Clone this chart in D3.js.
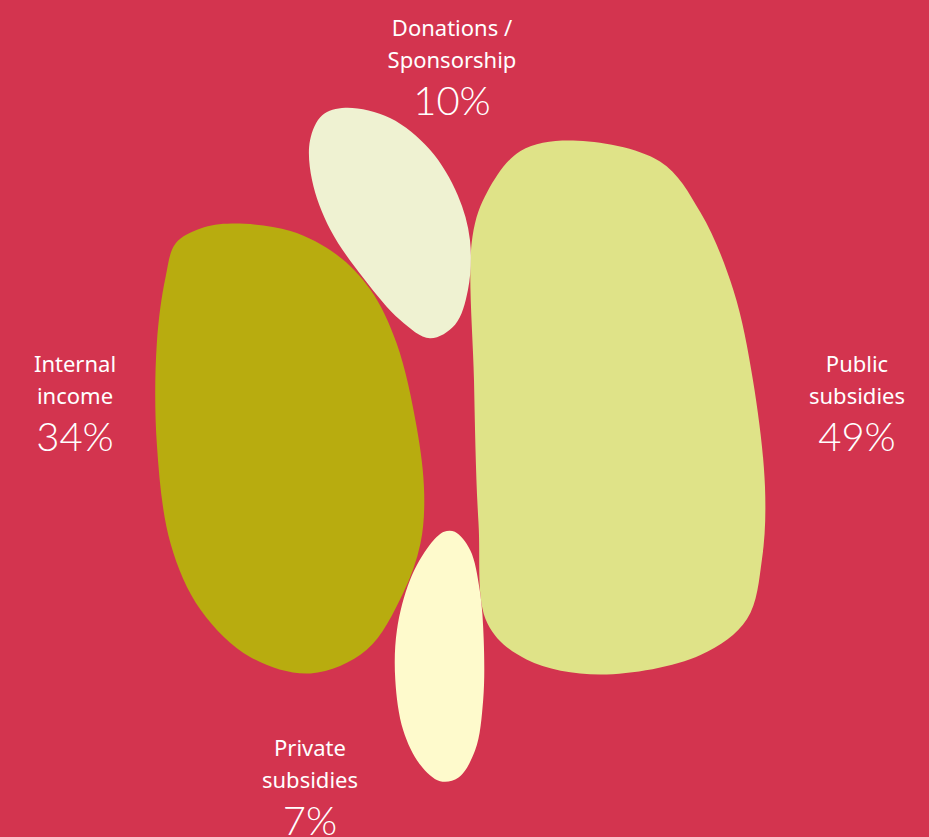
<!DOCTYPE html>
<html>
<head>
<meta charset="utf-8">
<script src="https://cdn.jsdelivr.net/npm/d3@7/dist/d3.min.js"></script>
<style>
  html, body { margin: 0; padding: 0; background: #D3344F; }
  svg { display: block; }
  text { fill: #FFFFFF; }
  .lbl { font-family: "Noto Sans", Lato, sans-serif; }
  .pct { font-family: Lato, "Open Sans", sans-serif; }
</style>
</head>
<body>
<svg id="chart" width="929" height="837"></svg>
<script>
// ---- data ----
const categories = ["Internal income", "Public subsidies", "Donations / Sponsorship", "Private subsidies"];
const labelLines = [["Internal", "income"], ["Public", "subsidies"], ["Donations /", "Sponsorship"], ["Private", "subsidies"]];
const values = [34, 49, 10, 7];
const colors = ["#B8AC0F", "#DFE388", "#EFF2D2", "#FEFACC"];

// ---- layout (positions / sizes) ----
const W = 929, H = 837;
const blobCenters = [[290.5, 448.5], [619.5, 407.5], [390, 223], [439.5, 656.5]];
const labelAnchors = [[75, 372], [857, 372], [452, 36], [310, 756]];

// organic unit outlines (shape templates, in units of blob radius)
const templates = [
  [[-0.47,-1.80],[0.00,-1.74],[0.37,-1.55],[0.64,-1.27],[0.85,-0.84],[1.01,-0.17],[1.07,0.36],[1.04,0.76],[0.90,1.16],[0.61,1.61],[0.16,1.80],[-0.32,1.67],[-0.72,1.29],[-0.96,0.76],[-1.07,-0.04],[-1.07,-0.84],[-1.00,-1.37],[-0.92,-1.64],[-0.72,-1.76]],
  [[-0.31,-1.78],[0.27,-1.64],[0.54,-1.30],[0.76,-0.78],[0.89,-0.18],[0.97,0.53],[0.95,1.01],[0.85,1.41],[0.54,1.65],[-0.13,1.78],[-0.62,1.68],[-0.88,1.44],[-0.94,0.77],[-0.97,-0.18],[-0.98,-1.14],[-0.88,-1.44],[-0.66,-1.71]],
  [[-0.66,-1.70],[0.00,-1.55],[0.59,-1.08],[1.00,-0.41],[1.18,0.25],[1.15,0.99],[0.96,1.50],[0.59,1.70],[0.15,1.43],[-0.37,0.84],[-0.88,0.10],[-1.15,-0.63],[-1.18,-1.22],[-1.00,-1.59]],
  [[0.27,-2.20],[0.54,-1.88],[0.71,-1.17],[0.78,-0.29],[0.77,0.77],[0.63,1.65],[0.33,2.14],[0.01,2.20],[-0.34,1.91],[-0.64,1.30],[-0.78,0.41],[-0.75,-0.47],[-0.52,-1.35],[-0.17,-1.97],[0.08,-2.20]]
];

const data = categories.map((c, i) => ({
  name: c, lines: labelLines[i], value: values[i], color: colors[i],
  center: blobCenters[i], anchor: labelAnchors[i], shape: templates[i]
}));

const svg = d3.select("#chart");
svg.append("rect").attr("width", W).attr("height", H).attr("fill", "#D3344F");

// blob size: area proportional to value
const rScale = d3.scaleSqrt().domain([0, d3.max(values)]).range([0, 150]);

const line = d3.line().curve(d3.curveCatmullRomClosed.alpha(0.5));

svg.append("g").selectAll("path")
  .data(data)
  .join("path")
  .attr("d", d => {
    const r = rScale(d.value);
    const sx = d3.scaleLinear().domain([0, 1]).range([d.center[0], d.center[0] + r]);
    const sy = d3.scaleLinear().domain([0, 1]).range([d.center[1], d.center[1] + r]);
    return line(d.shape.map(p => [sx(p[0]), sy(p[1])]));
  })
  .attr("fill", d => d.color);

const labels = svg.append("g").selectAll("g")
  .data(data)
  .join("g")
  .attr("transform", d => `translate(${d.anchor[0]},${d.anchor[1]})`);

labels.each(function(d) {
  const g = d3.select(this);
  d.lines.forEach((t, j) => {
    g.append("text").attr("class", "lbl").attr("x", 0).attr("y", j * 32)
      .attr("text-anchor", "middle")
      .attr("font-size", 22)
      .text(t);
  });
  g.append("text").attr("class", "pct").attr("x", 0).attr("y", 79)
    .attr("text-anchor", "middle")
    .attr("font-size", 40)
    .attr("font-weight", 300)
    .text(d3.format("d")(d.value) + "%");
});
</script>
</body>
</html>
